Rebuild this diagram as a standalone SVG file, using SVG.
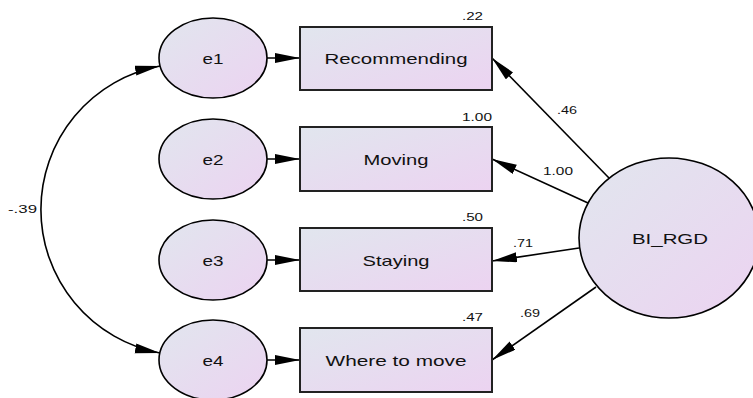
<svg xmlns="http://www.w3.org/2000/svg" width="753" height="398" viewBox="0 0 753 398">
<defs>
<linearGradient id="fill" x1="0" y1="0" x2="1" y2="1">
<stop offset="0" stop-color="#e1e6ee"/>
<stop offset="1" stop-color="#ecd3f1"/>
</linearGradient>
<marker id="arr" markerUnits="userSpaceOnUse" markerWidth="26" markerHeight="12" refX="25" refY="5" orient="auto-start-reverse">
<path d="M0,0 L25,5 L0,10 z" fill="#000"/>
</marker>
</defs>
<style>
.ell{fill:url(#fill);stroke:#000;stroke-width:1.6}
.box{fill:url(#fill);stroke:#222;stroke-width:2}
.lbl{font-family:"Liberation Sans",Arial,sans-serif;font-size:15px;fill:#111;text-anchor:middle}
.num{font-family:"Liberation Sans",Arial,sans-serif;font-size:11px;fill:#111}
.con{fill:none;stroke:#000;stroke-width:1.6}
</style>
<rect width="753" height="398" fill="#fff"/>
<g id="connectors">
<path class="con" d="M267,58 L300,58" marker-end="url(#arr)"/>
<path class="con" d="M267,159 L300,159" marker-end="url(#arr)"/>
<path class="con" d="M267,260 L300,260" marker-end="url(#arr)"/>
<path class="con" d="M267,360 L300,360" marker-end="url(#arr)"/>
<path class="con" d="M609,178 L492,58" marker-end="url(#arr)"/>
<path class="con" d="M588,203 L492,159" marker-end="url(#arr)"/>
<path class="con" d="M579,248 L492,261" marker-end="url(#arr)"/>
<path class="con" d="M596,287 L492,360" marker-end="url(#arr)"/>
<path class="con" d="M160,66 A146,146 0 0,0 160,353" marker-start="url(#arr)" marker-end="url(#arr)"/>
<text class="num" x="8" y="213" textLength="29" lengthAdjust="spacingAndGlyphs">-.39</text>
<text class="num" x="557" y="114" textLength="20" lengthAdjust="spacingAndGlyphs">.46</text>
<text class="num" x="543" y="175" textLength="30" lengthAdjust="spacingAndGlyphs">1.00</text>
<text class="num" x="513" y="247" textLength="20" lengthAdjust="spacingAndGlyphs">.71</text>
<text class="num" x="520" y="317" textLength="20" lengthAdjust="spacingAndGlyphs">.69</text>
</g>
<g id="e1"><ellipse class="ell" cx="213" cy="58" rx="54" ry="40"/><text class="lbl" x="213" y="64" textLength="21" lengthAdjust="spacingAndGlyphs">e1</text></g>
<g id="e2"><ellipse class="ell" cx="213" cy="159" rx="54" ry="40"/><text class="lbl" x="213" y="165" textLength="21" lengthAdjust="spacingAndGlyphs">e2</text></g>
<g id="e3"><ellipse class="ell" cx="213" cy="260" rx="54" ry="40"/><text class="lbl" x="213" y="266" textLength="21" lengthAdjust="spacingAndGlyphs">e3</text></g>
<g id="e4"><ellipse class="ell" cx="213" cy="360" rx="54" ry="40"/><text class="lbl" x="213" y="366" textLength="21" lengthAdjust="spacingAndGlyphs">e4</text></g>
<g id="recommending"><rect class="box" x="300" y="27" width="192" height="63"/><text class="lbl" x="396" y="64" textLength="143" lengthAdjust="spacingAndGlyphs">Recommending</text><text class="num" x="483" y="20" text-anchor="end" textLength="21" lengthAdjust="spacingAndGlyphs">.22</text></g>
<g id="moving"><rect class="box" x="300" y="127" width="192" height="64"/><text class="lbl" x="396" y="165" textLength="65" lengthAdjust="spacingAndGlyphs">Moving</text><text class="num" x="492" y="121" text-anchor="end" textLength="30" lengthAdjust="spacingAndGlyphs">1.00</text></g>
<g id="staying"><rect class="box" x="300" y="228" width="192" height="63"/><text class="lbl" x="396" y="266" textLength="67" lengthAdjust="spacingAndGlyphs">Staying</text><text class="num" x="483" y="221" text-anchor="end" textLength="21" lengthAdjust="spacingAndGlyphs">.50</text></g>
<g id="where_to_move"><rect class="box" x="300" y="328" width="192" height="64"/><text class="lbl" x="396" y="366" textLength="141" lengthAdjust="spacingAndGlyphs">Where to move</text><text class="num" x="483" y="321" text-anchor="end" textLength="21" lengthAdjust="spacingAndGlyphs">.47</text></g>
<g id="BI_RGD"><ellipse class="ell" cx="669" cy="238" rx="90" ry="80"/><text class="lbl" x="670" y="244" textLength="76" lengthAdjust="spacingAndGlyphs">BI_RGD</text></g>
</svg>
